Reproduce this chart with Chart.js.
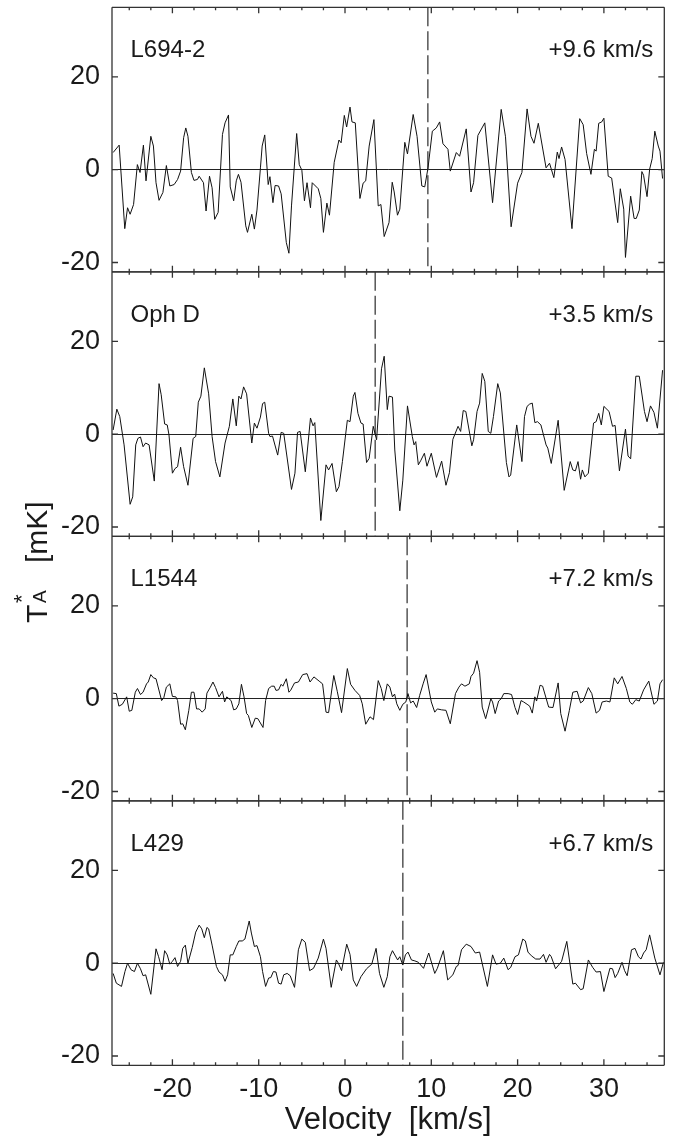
<!DOCTYPE html>
<html>
<head>
<meta charset="utf-8">
<script src="https://cdn.jsdelivr.net/npm/chart.js@4.4.1/dist/chart.umd.min.js"></script>
<style>
  html, body { margin: 0; padding: 0; background: #fff; }
  #wrap { width: 678px; height: 1140px; }
</style>
</head>
<body>
<div id="wrap"><canvas id="grafico" width="678" height="1140"></canvas></div>
<script>
// Nomes das fontes e velocidade sistêmica (linha tracejada) de cada painel
const paineis = ["L694-2", "Oph D", "L1544", "L429"];
const vlsr = [9.6, 3.5, 7.2, 6.7];

// Ticks dos eixos
const xTicks = [-20, -10, 0, 10, 20, 30];
const yTicks = [-20, 0, 20];

// Espectros: [velocidade km/s, T*A mK]
const specL694 = [
  [-26.87,3.7],[-26.17,5.3],[-25.52,-12.7],[-25.2,-8.2],[-24.9,-9.6],[-24.5,-7.5],[-24.06,1.1],[-23.75,-0.6],
  [-23.36,5.3],[-23.06,-2.4],[-22.5,7.2],[-22.2,5.1],[-21.9,-2.8],[-21.55,-6.6],[-21.1,-4.9],[-20.7,0.9],
  [-20.3,-3.5],[-19.8,-3.2],[-19.4,-2.1],[-19.05,-0.3],[-18.7,6.9],[-18.45,9.0],[-18.2,7.2],[-17.8,-0.6],
  [-17.5,-2.3],[-17.1,-2.1],[-16.9,-1.4],[-16.4,-2.8],[-16.1,-8.9],[-15.7,-1.4],[-15.4,-3.9],[-15.1,-10.7],
  [-14.7,-9.2],[-14.2,7.6],[-13.9,10.1],[-13.5,11.8],[-13.3,-3.7],[-12.9,-6.7],[-12.6,-2.4],[-12.35,-1.0],
  [-12.05,-2.7],[-11.5,-12.1],[-11.3,-13.5],[-10.8,-9.6],[-10.5,-12.8],[-10.2,-8.7],[-9.8,0.4],[-9.6,5.1],
  [-9.3,7.5],[-8.9,-3.2],[-8.7,-1.5],[-8.35,-7.1],[-8.1,-3.4],[-7.7,-3.5],[-7.4,-5.2],[-6.8,-15.7],
  [-6.5,-18.0],[-6.2,-7.8],[-5.6,7.8],[-5.3,1.1],[-5.0,-0.1],[-4.7,-6.7],[-4.4,-2.8],[-4.0,-8.2],
  [-3.8,-2.8],[-3.1,-4.1],[-2.8,-6.2],[-2.5,-13.5],[-2.1,-7.2],[-1.8,-9.8],[-1.25,1.6],[-0.7,6.4],
  [-0.45,5.8],[-0.08,11.7],[0.19,9.2],[0.58,13.5],[0.81,10.3],[1.19,10.1],[1.73,-6.2],[2.1,-2.9],
  [2.4,-2.4],[2.8,5.1],[3.35,10.8],[3.85,-7.8],[4.16,-7.5],[4.54,-14.4],[5.1,-11.4],[5.47,-2.7],
  [5.7,-4.8],[6.08,-9.8],[6.35,-8.5],[6.93,5.9],[7.24,3.4],[7.9,11.9],[8.35,7.2],[8.9,-3.5],
  [9.24,-3.7],[9.62,0.4],[10.12,8.3],[10.58,9.0],[10.97,10.3],[11.35,5.6],[11.93,4.4],[12.2,-0.3],
  [12.9,3.7],[13.28,2.9],[14.05,8.8],[14.6,-4.8],[14.9,-2.8],[15.4,7.4],[16.2,10.1],[17.1,-7.1],
  [18.1,13.0],[18.6,7.1],[19.25,-12.3],[20.0,-2.9],[20.5,-0.6],[21.1,13.1],[21.55,7.2],[21.9,5.7],
  [22.4,10.0],[23.3,0.4],[23.7,1.4],[24.2,-1.7],[24.6,3.8],[24.8,2.4],[25.1,4.9],[25.5,2.2],
  [26.3,-12.7],[27.2,11.0],[27.6,9.7],[28.0,3.5],[28.5,-1.0],[28.9,4.4],[29.1,4.0],[29.4,10.0],
  [29.75,10.3],[30.0,11.1],[30.5,-1.4],[30.9,-1.8],[31.6,-11.4],[31.9,-4.1],[32.3,-8.5],[32.5,-18.9],
  [33.1,-5.7],[33.5,-10.5],[33.75,-10.5],[34.1,-8.7],[34.4,-0.4],[34.6,-1.2],[35.0,-5.8],[35.3,0.1],
  [35.6,2.4],[35.9,8.3],[36.3,5.1],[36.5,4.0],[36.8,-1.9]
];
const specOphD = [
  [-26.87,0.9],[-26.44,5.4],[-26.1,3.8],[-25.6,-2.3],[-24.9,-15.1],[-24.6,-13.5],[-24.25,-2.3],[-24.0,-0.9],
  [-23.7,-0.6],[-23.4,-2.7],[-23.1,-1.9],[-22.7,-2.3],[-22.1,-10.1],[-21.55,10.9],[-21.3,8.5],[-20.9,2.2],
  [-20.6,2.0],[-20.4,-0.1],[-20.0,-8.4],[-19.7,-7.4],[-19.4,-7.0],[-19.05,-2.8],[-18.7,-7.0],[-18.2,-11.0],
  [-17.6,-0.9],[-17.3,-0.5],[-17.0,6.9],[-16.7,8.2],[-16.3,14.3],[-15.8,8.7],[-15.4,-0.5],[-15.0,-5.9],
  [-14.5,-9.2],[-13.9,-1.9],[-13.4,1.7],[-13.0,7.6],[-12.6,1.8],[-12.3,8.2],[-12.05,7.6],[-11.75,10.2],
  [-11.4,8.7],[-10.8,-1.9],[-10.5,2.4],[-10.2,1.3],[-9.8,3.7],[-9.55,6.6],[-9.3,6.9],[-8.85,0.2],
  [-8.7,-0.5],[-8.4,-0.4],[-7.8,-4.5],[-7.4,0.4],[-7.1,0.2],[-6.2,-11.9],[-5.8,-8.4],[-5.5,0.4],
  [-5.2,0.6],[-4.6,-8.1],[-4.0,3.5],[-3.7,1.8],[-3.5,2.5],[-2.8,-18.6],[-2.2,-6.6],[-1.9,-7.7],
  [-1.5,-6.3],[-1.0,-12.4],[-0.7,-11.3],[-0.3,-5.9],[0.27,3.0],[0.58,2.7],[0.96,8.2],[1.15,9.0],
  [1.5,4.5],[1.85,2.4],[2.1,2.2],[2.5,-6.1],[2.8,-5.2],[3.27,1.7],[3.66,-1.2],[4.23,14.1],
  [4.54,16.8],[4.9,5.3],[5.1,8.2],[5.5,8.0],[5.77,-3.4],[6.35,-16.5],[6.7,-9.9],[7.24,6.1],
  [7.8,-0.5],[8.0,-2.3],[8.2,-1.6],[8.5,-6.6],[8.8,-5.6],[9.2,-4.1],[9.5,-6.9],[10.0,-4.1],
  [10.6,-9.3],[11.2,-5.8],[11.7,-11.0],[12.1,-8.3],[12.5,-1.1],[13.1,1.7],[13.4,0.6],[13.7,5.1],
  [14.0,4.9],[14.7,-2.5],[14.9,-1.2],[15.3,4.9],[15.6,6.7],[15.9,13.1],[16.2,11.4],[16.6,0.6],
  [16.9,0.2],[17.2,3.8],[17.7,10.9],[18.0,8.9],[18.7,-6.1],[19.0,-9.2],[19.2,-8.8],[19.9,2.0],
  [20.5,-5.9],[20.8,3.8],[21.1,6.0],[21.4,6.5],[21.7,6.7],[22.0,2.5],[22.3,2.7],[22.7,2.0],
  [23.3,-2.3],[23.5,-3.0],[23.9,-6.3],[24.7,3.0],[25.4,-12.1],[26.1,-5.9],[26.4,-7.7],[26.7,-7.9],
  [27.0,-5.9],[27.3,-9.7],[27.5,-7.7],[27.8,-9.2],[28.2,-8.4],[28.8,2.4],[29.1,2.7],[29.4,4.5],
  [29.7,2.0],[30.0,6.0],[30.6,4.9],[31.0,1.7],[31.3,1.9],[31.8,-7.9],[32.5,1.1],[32.8,-4.7],
  [33.1,-5.3],[33.7,12.5],[34.1,12.5],[34.7,4.9],[35.0,2.7],[35.4,6.1],[35.8,4.7],[36.2,1.3],
  [36.8,13.8]
];
const specL1544 = [
  [-26.87,1.2],[-26.5,1.1],[-26.2,-1.6],[-25.8,-1.2],[-25.3,0.4],[-25.0,-2.7],[-24.7,-2.5],[-24.3,1.4],
  [-24.05,2.2],[-23.7,0.9],[-23.4,1.4],[-23.0,3.2],[-22.8,3.6],[-22.5,5.2],[-22.2,4.5],[-21.9,4.3],
  [-21.25,-0.4],[-21.0,0.2],[-20.7,2.5],[-20.3,3.2],[-20.0,0.5],[-19.6,0.4],[-19.4,-0.4],[-19.05,-5.5],
  [-18.8,-5.4],[-18.5,-6.7],[-18.1,-2.5],[-17.8,1.4],[-17.5,1.4],[-17.2,-2.2],[-16.9,-2.2],[-16.55,-2.9],
  [-16.2,-2.2],[-16.0,1.2],[-15.6,2.5],[-15.3,3.6],[-15.0,2.4],[-14.6,0.4],[-14.2,1.6],[-13.95,-0.7],
  [-13.7,0.4],[-13.2,-0.4],[-12.9,-2.4],[-12.6,-2.2],[-12.3,-1.1],[-12.0,3.1],[-11.7,0.4],[-11.4,-3.2],
  [-11.2,-3.6],[-10.8,-6.2],[-10.4,-4.2],[-10.1,-4.3],[-9.5,-6.2],[-9.2,-0.4],[-8.85,2.2],[-8.5,2.7],
  [-8.2,2.7],[-8.0,1.8],[-7.7,1.9],[-7.4,3.1],[-7.2,2.7],[-6.8,4.3],[-6.5,1.4],[-6.3,1.8],
  [-5.85,3.4],[-5.4,3.6],[-4.9,5.2],[-4.4,5.4],[-4.05,3.6],[-3.6,4.7],[-3.0,3.8],[-2.6,3.2],
  [-2.2,-2.9],[-1.9,-3.0],[-1.3,5.0],[-0.9,1.6],[-0.4,-3.0],[0.27,6.5],[0.65,3.1],[1.15,1.8],
  [1.7,0.7],[2.0,-1.1],[2.4,-5.5],[2.9,-3.9],[3.3,-4.5],[3.85,3.9],[4.2,2.2],[4.5,-0.4],
  [4.9,3.2],[5.2,2.5],[5.5,0.4],[5.75,1.0],[6.0,-1.1],[6.35,-2.5],[6.7,-1.2],[7.05,-0.7],
  [7.3,1.1],[7.6,-0.9],[7.9,-0.5],[8.3,-1.9],[8.65,0.7],[9.05,3.2],[9.4,5.2],[10.0,-0.7],
  [10.4,-2.9],[10.7,-2.2],[11.2,-2.4],[11.7,-2.5],[12.2,-5.4],[12.8,1.1],[13.2,2.5],[13.5,3.2],
  [13.9,2.7],[14.4,3.2],[14.6,4.8],[14.9,5.5],[15.3,8.2],[15.6,5.7],[15.9,-1.8],[16.3,-4.3],
  [16.9,0.0],[17.1,-0.7],[17.4,-3.2],[17.8,-0.5],[18.1,0.0],[18.4,1.1],[18.9,1.1],[19.3,0.9],
  [19.7,-1.9],[20.0,-3.4],[20.4,-0.4],[20.7,-0.7],[21.1,-1.2],[21.4,-1.6],[21.7,-3.1],[22.0,0.4],
  [22.2,-0.5],[22.6,2.9],[22.9,2.7],[23.6,-1.8],[24.1,-1.9],[24.7,3.4],[25.0,-3.2],[25.5,-7.0],
  [26.0,-2.5],[26.4,1.4],[26.9,1.6],[27.3,-0.9],[27.6,-0.5],[28.2,2.4],[28.6,1.1],[29.1,-3.1],
  [29.5,-2.5],[29.8,-0.7],[30.3,-0.5],[30.7,-0.7],[31.2,4.5],[31.6,3.2],[32.1,4.8],[32.6,2.2],
  [33.0,-0.7],[33.3,-1.2],[33.7,-0.2],[34.1,-0.5],[34.6,1.9],[35.2,3.8],[35.8,-1.2],[36.2,-0.5],
  [36.5,3.2],[36.8,4.1]
];
const specL429 = [
  [-26.87,-2.2],[-26.5,-4.3],[-25.9,-5.0],[-25.5,-1.8],[-25.2,0.0],[-24.8,-1.4],[-24.4,-1.8],[-24.05,0.0],
  [-23.7,-1.2],[-23.4,-2.7],[-23.1,-2.5],[-22.5,-6.7],[-21.9,3.1],[-21.6,1.4],[-21.2,-1.4],[-20.9,2.7],
  [-20.6,1.8],[-20.3,-0.2],[-20.0,0.4],[-19.7,1.2],[-19.4,-0.7],[-19.05,0.4],[-18.8,3.2],[-18.5,3.9],
  [-18.2,0.0],[-17.7,3.4],[-17.3,6.7],[-16.9,8.2],[-16.6,7.4],[-16.3,5.5],[-16.0,7.7],[-15.8,7.4],
  [-15.4,3.9],[-14.9,-0.7],[-14.6,-1.9],[-14.2,-2.5],[-13.9,-3.9],[-13.6,-2.5],[-13.3,1.8],[-13.0,1.8],
  [-12.6,3.6],[-12.3,4.8],[-11.9,4.8],[-11.6,5.2],[-11.1,9.1],[-10.85,6.5],[-10.5,3.6],[-10.2,3.8],
  [-9.8,1.4],[-9.55,-1.8],[-9.2,-5.0],[-8.85,-3.2],[-8.6,-3.1],[-8.3,-1.8],[-8.0,-1.9],[-7.7,-4.3],
  [-7.4,-4.5],[-7.1,-2.5],[-6.7,-2.2],[-6.35,-2.7],[-5.85,-5.2],[-5.4,2.9],[-5.0,5.2],[-4.6,4.5],
  [-4.1,-1.6],[-3.65,-1.1],[-3.1,1.1],[-2.5,5.2],[-2.2,3.2],[-1.6,-5.2],[-1.0,0.7],[-0.77,0.0],
  [-0.4,-1.6],[0.2,4.1],[0.58,1.9],[0.96,-3.6],[1.35,-5.0],[1.85,-2.9],[2.5,-1.2],[3.1,-0.2],
  [3.6,3.2],[4.0,-2.2],[4.5,-5.2],[4.9,-2.9],[5.2,1.4],[5.5,2.7],[6.1,0.7],[6.35,1.4],
  [6.7,-0.4],[7.0,1.8],[7.3,2.4],[7.7,0.7],[8.1,0.5],[8.5,0.2],[9.1,-1.1],[9.7,2.2],
  [10.4,-2.2],[10.7,-1.1],[11.4,2.7],[11.9,-3.6],[12.5,-2.5],[12.9,-0.7],[13.1,-0.5],[13.5,2.9],
  [14.05,4.1],[14.6,3.6],[15.1,2.2],[15.6,2.4],[16.5,-5.0],[17.1,1.8],[17.5,-0.2],[18.0,0.0],
  [18.4,1.1],[18.9,-1.4],[19.2,-0.9],[19.7,1.4],[20.1,1.8],[20.6,5.2],[20.9,4.8],[21.2,2.4],
  [21.6,1.6],[22.1,0.9],[22.6,0.9],[23.0,1.9],[23.3,0.2],[23.7,1.9],[23.9,1.4],[24.4,-1.2],
  [25.1,0.4],[25.7,4.7],[26.4,-4.5],[26.7,-4.3],[27.3,-5.7],[27.6,-5.5],[28.2,0.7],[28.7,-0.9],
  [29.1,-1.9],[29.6,-1.8],[30.0,-6.1],[30.7,-1.1],[31.0,-1.2],[31.3,-3.1],[31.6,-2.2],[32.1,0.2],
  [32.4,-1.6],[32.7,-2.7],[33.2,2.9],[33.6,3.2],[34.0,1.4],[34.3,0.9],[34.6,2.2],[34.9,2.9],
  [35.3,6.1],[35.9,1.1],[36.5,-2.5],[36.9,0.2]
];
const espectros = [specL694, specOphD, specL1544, specL429];

// Limites dos eixos
const xMin = -27, xMax = 37;
const yMin = -22, yMax = 35;

const fonte = "'Liberation Sans', Arial, Helvetica, sans-serif";
const corTexto = '#1a1a1a';

// Datasets: espectro + linha tracejada da velocidade, cada painel no seu eixo y
const datasets = [];
espectros.forEach((spec, i) => {
  datasets.push({
    data: spec.map(p => ({ x: p[0], y: p[1] })),
    yAxisID: 'y' + i,
    borderColor: '#111',
    borderWidth: 1,
    pointRadius: 0,
    tension: 0
  });
  datasets.push({
    data: [{ x: vlsr[i], y: yMax }, { x: vlsr[i], y: yMin }],
    yAxisID: 'y' + i,
    borderColor: '#555',
    borderWidth: 1.5,
    borderDash: [19, 5],
    pointRadius: 0
  });
});

// Eixos: um x embaixo, quatro y empilhados
const scales = {
  x: {
    type: 'linear',
    position: 'bottom',
    min: xMin,
    max: xMax,
    afterBuildTicks: s => { s.ticks = xTicks.map(v => ({ value: v })); },
    afterFit: s => { s.height = 74.7; s.paddingLeft = 0; s.paddingRight = 0; },
    grid: { display: false, drawTicks: false },
    border: { display: false },
    ticks: { font: { family: fonte, size: 27 }, color: corTexto, padding: 8, maxRotation: 0, autoSkip: false, callback: v => String(v) },
    title: { display: true, text: 'Velocity  [km/s]', font: { family: fonte, size: 31 }, color: corTexto, padding: { top: 0, bottom: 1 } }
  }
};
paineis.forEach((nome, i) => {
  scales['y' + i] = {
    type: 'linear',
    position: 'left',
    stack: 'paineis',
    stackWeight: 1,
    weight: paineis.length - i,
    min: yMin,
    max: yMax,
    afterBuildTicks: s => { s.ticks = yTicks.map(v => ({ value: v })); },
    afterFit: s => { s.width = 112; s.paddingTop = 0; s.paddingBottom = 0; },
    grid: {
      color: c => (c.tick && c.tick.value === 0) ? '#222' : 'rgba(0,0,0,0)',
      lineWidth: 1,
      drawTicks: false
    },
    border: { display: false },
    ticks: { font: { family: fonte, size: 27 }, color: corTexto, padding: 12, autoSkip: false, callback: v => String(v) }
  };
});

// Moldura, ticks para dentro, rótulos dos painéis e título do eixo y
const moldura = {
  id: 'moldura',
  afterDraw(chart) {
    const ctx = chart.ctx;
    const area = chart.chartArea;
    const xs = chart.scales.x;
    ctx.save();
    ctx.strokeStyle = '#333';
    ctx.lineWidth = 1.3;
    ctx.beginPath();
    ctx.moveTo(area.left, area.top); ctx.lineTo(area.left, area.bottom);
    ctx.moveTo(area.right, area.top); ctx.lineTo(area.right, area.bottom);
    ctx.stroke();

    paineis.forEach((nome, i) => {
      const ys = chart.scales['y' + i];
      ctx.beginPath();
      [ys.top, ys.bottom].forEach(y => { ctx.moveTo(area.left, y); ctx.lineTo(area.right, y); });
      for (let v = -25; v <= 35; v += 2.5) {
        const px = xs.getPixelForValue(v);
        const len = (v % 10 === 0) ? 6 : 3;
        ctx.moveTo(px, ys.top); ctx.lineTo(px, ys.top + len);
        ctx.moveTo(px, ys.bottom); ctx.lineTo(px, ys.bottom - len);
      }
      yTicks.forEach(v => {
        const py = ys.getPixelForValue(v);
        ctx.moveTo(area.left, py); ctx.lineTo(area.left + 6, py);
        ctx.moveTo(area.right, py); ctx.lineTo(area.right - 6, py);
      });
      ctx.stroke();

      ctx.fillStyle = corTexto;
      ctx.font = `24px ${fonte}`;
      ctx.textBaseline = 'alphabetic';
      ctx.textAlign = 'left';
      ctx.fillText(nome, area.left + 18.5, ys.top + 50);
      ctx.textAlign = 'right';
      ctx.fillText('+' + vlsr[i].toFixed(1) + ' km/s', area.right - 11, ys.top + 50);
    });

    // T*A [mK] girado
    ctx.save();
    ctx.translate(47, 623);
    ctx.rotate(-Math.PI / 2);
    ctx.fillStyle = corTexto;
    ctx.textAlign = 'left';
    ctx.textBaseline = 'alphabetic';
    ctx.font = `30px ${fonte}`;
    ctx.fillText('T', 0, 0);
    ctx.font = `19px ${fonte}`;
    ctx.fillText('A', 20, -1);
    ctx.font = `22px ${fonte}`;
    ctx.fillText('*', 20, -18);
    ctx.font = `30px ${fonte}`;
    ctx.fillText('[mK]', 60, 0);
    ctx.restore();

    ctx.restore();
  }
};

const grafico = new Chart(document.getElementById('grafico').getContext('2d'), {
  type: 'line',
  data: { datasets },
  options: {
    responsive: false,
    animation: false,
    events: [],
    layout: { padding: { top: 7.3, right: 13.7, bottom: 0, left: 0 } },
    plugins: { legend: { display: false }, tooltip: { enabled: false } },
    scales
  },
  plugins: [moldura]
});
</script>
</body>
</html>
